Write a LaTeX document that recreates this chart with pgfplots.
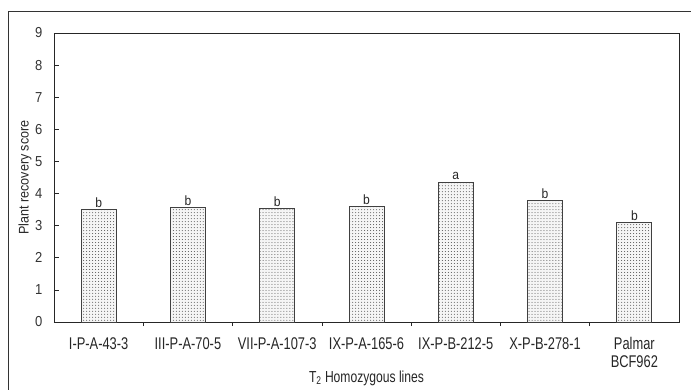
\documentclass[border=0pt]{standalone}
\usepackage{pgfplots}
\pgfplotsset{compat=1.18}
\usepackage{fontspec}
\setmainfont{Liberation Sans}
\newfontfamily\narrowx{Liberation Sans}[FakeStretch=0.76]
\newfontfamily\narrowy{Liberation Sans}[FakeStretch=0.9]
\usetikzlibrary{patterns}

\begin{document}
\begin{tikzpicture}[x=1bp,y=1bp]
% page extent
\useasboundingbox (-54,-67) rectangle (637,322);
% outer frame
\draw[black!80, line width=0.8bp] (-46,-80) -- (-46,311) -- (650,311);
\begin{axis}[
  at={(0,0)}, anchor=south west,
  scale only axis,
  width=625bp, height=289bp,
  xmin=-0.5, xmax=6.5,
  ymin=0, ymax=9,
  ytick={0,1,...,9},
  xtick={0,...,6},
  xticklabels={I-P-A-43-3,III-P-A-70-5,VII-P-A-107-3,IX-P-A-165-6,IX-P-B-212-5,X-P-B-278-1,{Palmar\\BCF962}},
  /pgf/number format/assume math mode=true,
  xticklabel style={align=center, font=\narrowx\fontsize{17}{18}\selectfont, text=black!85, yshift=-7bp},
  yticklabel style={font=\narrowy\fontsize{14.5}{15}\selectfont, text=black!80, xshift=-8bp},
  minor xtick={0.5,1.5,...,5.5},
  major x tick style={draw=none},
  minor tick length=4bp,
  major tick length=5bp,
  tick align=inside,
  xtick pos=bottom, ytick pos=left,
  axis line style={black!85, line width=0.8bp},
  tick style={black!85, line width=0.7bp},
  xlabel={T\textsubscript{2} Homozygous lines},
  ylabel={Plant recovery score},
  xlabel style={font=\narrowx\fontsize{16}{18}\selectfont, text=black!85, yshift=4bp},
  ylabel style={font=\narrowy\fontsize{14}{15}\selectfont, text=black!85, yshift=-3bp},
  ybar, bar width=35bp,
  point meta=explicit symbolic,
  nodes near coords,
  nodes near coords style={font=\narrowy\fontsize{13.5}{14}\selectfont, text=black!85, yshift=-1.5bp},
]
\addplot[draw=black!75, line width=0.9bp, fill=gray!8,
  postaction={pattern=dots, pattern color=black!70}]
  coordinates {
    (0,3.49) [b]
    (1,3.56) [b]
    (2,3.53) [b]
    (3,3.59) [b]
    (4,4.35) [a]
    (5,3.78) [b]
    (6,3.10) [b]
  };
\end{axis}
\end{tikzpicture}
\end{document}
